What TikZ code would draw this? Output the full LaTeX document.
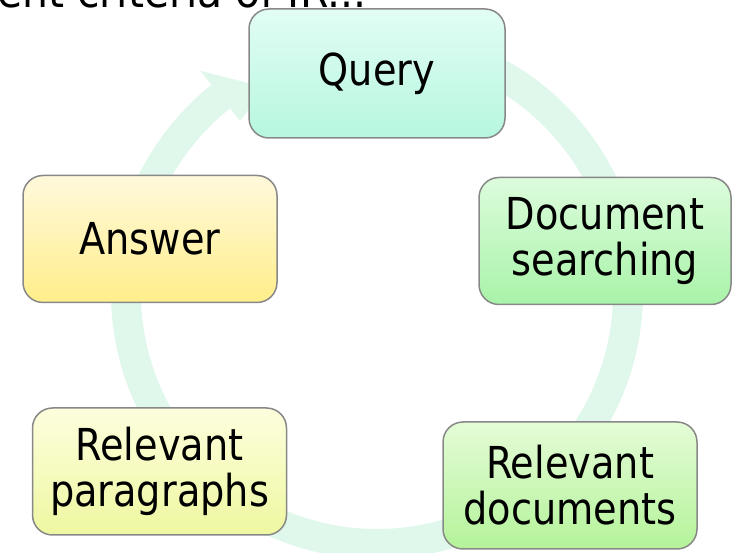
\documentclass[tikz,border=0pt]{standalone}
\usepackage{fontspec}
\setmainfont[FakeStretch=0.87]{DejaVu Sans}
\newfontfamily\titlefont[FakeStretch=0.93]{DejaVu Sans}
\usetikzlibrary{calc}
\definecolor{ringfill}{RGB}{224,248,236}
\definecolor{boxline}{RGB}{136,136,136}
\definecolor{querytop}{RGB}{226,253,244}
\definecolor{querybot}{RGB}{182,247,223}
\definecolor{searchtop}{RGB}{220,252,220}
\definecolor{searchbot}{RGB}{169,243,169}
\definecolor{docstop}{RGB}{228,252,214}
\definecolor{docsbot}{RGB}{180,243,154}
\definecolor{paratop}{RGB}{253,254,221}
\definecolor{parabot}{RGB}{238,247,160}
\definecolor{answertop}{RGB}{255,249,220}
\definecolor{answerbot}{RGB}{255,238,138}

\begin{document}
\begin{tikzpicture}[x=1pt, y=-1pt,
    bigtext/.style={font=\fontsize{44}{46}\selectfont},
    box/.style={draw=boxline, line width=1.5pt, rounded corners=20pt,
                minimum width=254pt, minimum height=127pt, inner sep=0pt,
                align=center, bigtext},
    ring/.style={fill=ringfill, draw=none},
  ]
  \useasboundingbox (0,0) rectangle (732,553);
  \clip (0,0) rectangle (732,553);
  % cycle arrow behind the boxes
  \coordinate (ctr) at (377,293);
  \fill[ring] (ctr) ++(280:266) arc[start angle=280, end angle=591.5, radius=266]
    -- ($(ctr)+(231.5:284)$) -- ($(ctr)+(241.5:234)$) -- ($(ctr)+(231.5:220)$)
    -- ($(ctr)+(231.5:236)$) arc[start angle=591.5, end angle=280, radius=236] -- cycle;
  \node[box, top color=querytop, bottom color=querybot, minimum width=256pt, minimum height=129pt] (query) at (377,73.5) {Query};
  \node[box, top color=searchtop, bottom color=searchbot, minimum width=252pt] (search) at (605,241) {Document\\searching};
  \node[box, top color=docstop, bottom color=docsbot] (docs) at (570,485.5) {Relevant\\documents};
  \node[box, top color=paratop, bottom color=parabot] (paras) at (159.5,471.5) {Relevant\\paragraphs};
  \node[box, top color=answertop, bottom color=answerbot] (answer) at (150,239) {Answer};
  \node[font=\titlefont\fontsize{44}{46}\selectfont, anchor=base west, inner sep=0pt] (title) at (-3,8) {ent criteria of IR...};
\end{tikzpicture}
\end{document}
